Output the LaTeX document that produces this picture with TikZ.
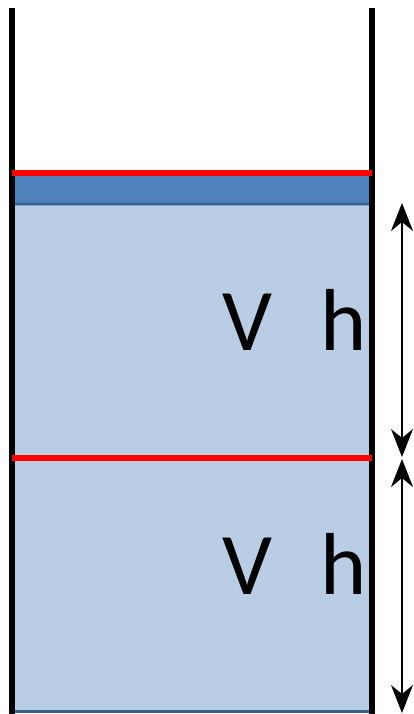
\documentclass[tikz,border=0pt]{standalone}
\usepackage{fontspec}
\setmainfont{Carlito}
\usetikzlibrary{arrows.meta}

\definecolor{fluid}{HTML}{B9CDE5}
\definecolor{piston}{HTML}{4F81BD}
\definecolor{pistonedge}{HTML}{3A5F8C}

\tikzset{
    wall/.style={line width=5.5pt, black},
    level/.style={line width=6pt, red},
    height/.style={line width=2pt, {Stealth[length=28pt, width=22pt, inset=9pt]}-{Stealth[length=28pt, width=22pt, inset=9pt]}},
    lbl/.style={inner sep=0pt, anchor=base, font=\fontsize{88}{88}\selectfont}
}

\begin{document}
\begin{tikzpicture}[x=1pt, y=-1pt]

        \useasboundingbox (0, 0) rectangle (413, 714);

        % Fluessigkeit
        \fill[fluid] (12, 200) rectangle (372, 712);
        \draw[pistonedge, line width=3.5pt] (12, 711.5) -- (372, 711.5);

        % Kolben
        \draw[rounded corners=2pt, draw=pistonedge, line width=2.5pt, fill=piston] (10.5, 172) rectangle (373.5, 204);

        % Waende
        \draw[wall] (12, 8) -- (12, 714);
        \draw[wall] (372, 8) -- (372, 714);

        % Pegel
        \draw[level] (12, 173) -- (372, 173);
        \draw[level] (12, 458) -- (372, 458);

        \node[lbl] (vtop) at (247, 350) {V};
        \node[lbl] (htop) at (343.5, 350) {h};
        \node[lbl] (vbot) at (247, 594) {V};
        \node[lbl] (hbot) at (343.5, 594) {h};

        % Hoehen
        \coordinate (top) at (402, 203);
        \coordinate (mid1) at (402, 457);
        \coordinate (mid2) at (402, 459);
        \coordinate (bot) at (402, 713);
        \draw[height] (top) -- (mid1);
        \draw[height] (mid2) -- (bot);

    \end{tikzpicture}
\end{document}
